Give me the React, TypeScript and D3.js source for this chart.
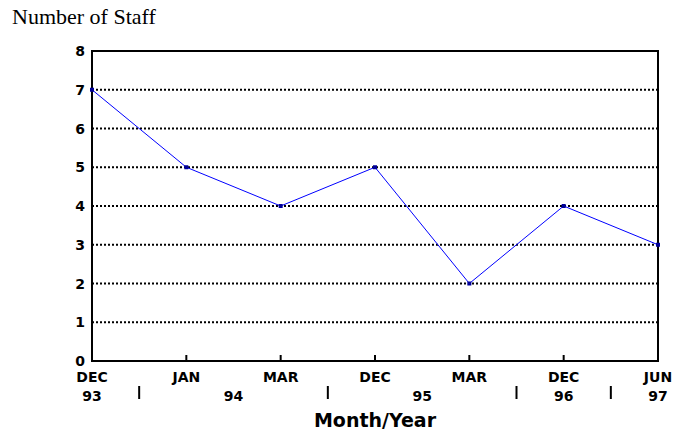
import React, { useEffect, useRef } from "react";
import * as d3 from "d3";

const months = ["DEC", "JAN", "MAR", "DEC", "MAR", "DEC", "JUN"];
const staff = [7, 5, 4, 5, 2, 4, 3];
const yTicks = [0, 1, 2, 3, 4, 5, 6, 7, 8];
// year labels sit at fractional positions along the category index
const years = [
  { label: "93", pos: 0 },
  { label: "94", pos: 1.5 },
  { label: "95", pos: 3.5 },
  { label: "96", pos: 5 },
  { label: "97", pos: 6 },
];
const yearSeparators = [0.5, 2.5, 4.5, 5.5];

const App = () => {
  const svgRef = useRef<SVGSVGElement>(null);
  const width = 673;
  const height = 431;
  const margin = { top: 51, right: 15, bottom: 70, left: 92 };

  useEffect(() => {
    const svg = d3.select(svgRef.current);
    svg.selectAll("*").remove();

    const x = d3
      .scaleLinear()
      .domain([0, months.length - 1])
      .range([margin.left, width - margin.right]);
    const y = d3
      .scaleLinear()
      .domain([0, 8])
      .range([height - margin.bottom, margin.top]);

    const bold = "'DejaVu Sans', Verdana, sans-serif";

    // dotted grid lines
    svg
      .selectAll(".grid")
      .data(yTicks.filter((d) => d > 0 && d < 8))
      .enter()
      .append("line")
      .attr("x1", x(0))
      .attr("x2", x(6))
      .attr("y1", (d) => y(d))
      .attr("y2", (d) => y(d))
      .attr("stroke", "#000")
      .attr("stroke-width", 2)
      .attr("stroke-dasharray", "2,2");

    // frame
    svg
      .append("rect")
      .attr("x", x(0))
      .attr("y", y(8))
      .attr("width", x(6) - x(0))
      .attr("height", y(0) - y(8))
      .attr("fill", "none")
      .attr("stroke", "#000")
      .attr("stroke-width", 2);

    // inner ticks on bottom axis
    svg
      .selectAll(".xtick")
      .data(d3.range(1, months.length - 1))
      .enter()
      .append("line")
      .attr("x1", (d) => x(d))
      .attr("x2", (d) => x(d))
      .attr("y1", y(0))
      .attr("y2", y(0) - 6)
      .attr("stroke", "#000")
      .attr("stroke-width", 2);

    // y tick labels
    svg
      .selectAll(".ylab")
      .data(yTicks)
      .enter()
      .append("text")
      .attr("x", x(0) - 7)
      .attr("y", (d) => y(d))
      .attr("dy", "0.36em")
      .attr("text-anchor", "end")
      .style("font-family", bold)
      .style("font-weight", "bold")
      .style("font-size", "14px")
      .text((d) => d);

    // month labels
    svg
      .selectAll(".mlab")
      .data(months)
      .enter()
      .append("text")
      .attr("x", (d, i) => x(i))
      .attr("y", y(0) + 21)
      .attr("text-anchor", "middle")
      .style("font-family", bold)
      .style("font-weight", "bold")
      .style("font-size", "14px")
      .text((d) => d);

    // year labels
    svg
      .selectAll(".ylabel")
      .data(years)
      .enter()
      .append("text")
      .attr("x", (d) => x(d.pos))
      .attr("y", y(0) + 40)
      .attr("text-anchor", "middle")
      .style("font-family", bold)
      .style("font-weight", "bold")
      .style("font-size", "14px")
      .text((d) => d.label);

    // year separators
    svg
      .selectAll(".ysep")
      .data(yearSeparators)
      .enter()
      .append("line")
      .attr("x1", (d) => x(d))
      .attr("x2", (d) => x(d))
      .attr("y1", y(0) + 25)
      .attr("y2", y(0) + 38)
      .attr("stroke", "#000")
      .attr("stroke-width", 2);

    // line
    const line = d3
      .line<number>()
      .x((d, i) => x(i))
      .y((d) => y(d));
    svg
      .append("path")
      .datum(staff)
      .attr("d", line)
      .attr("fill", "none")
      .attr("stroke", "#0000ff")
      .attr("stroke-width", 1);

    svg
      .selectAll(".pt")
      .data(staff)
      .enter()
      .append("rect")
      .attr("x", (d, i) => x(i) - 2)
      .attr("y", (d) => y(d) - 2)
      .attr("width", 4)
      .attr("height", 4)
      .attr("fill", "#000099");

    // axis titles
    svg
      .append("text")
      .attr("x", 12)
      .attr("y", 24)
      .style("font-family", "'Liberation Serif', 'Times New Roman', serif")
      .style("font-size", "22px")
      .text("Number of Staff");

    svg
      .append("text")
      .attr("x", (x(0) + x(6)) / 2)
      .attr("y", 427)
      .attr("text-anchor", "middle")
      .style("font-family", bold)
      .style("font-weight", "bold")
      .style("font-size", "19px")
      .text("Month/Year");
  }, []);

  return (
    <svg
      ref={svgRef}
      width={width}
      height={height}
      style={{ position: "absolute", left: 0, top: 0, background: "#fff" }}
    ></svg>
  );
};

export default App;
